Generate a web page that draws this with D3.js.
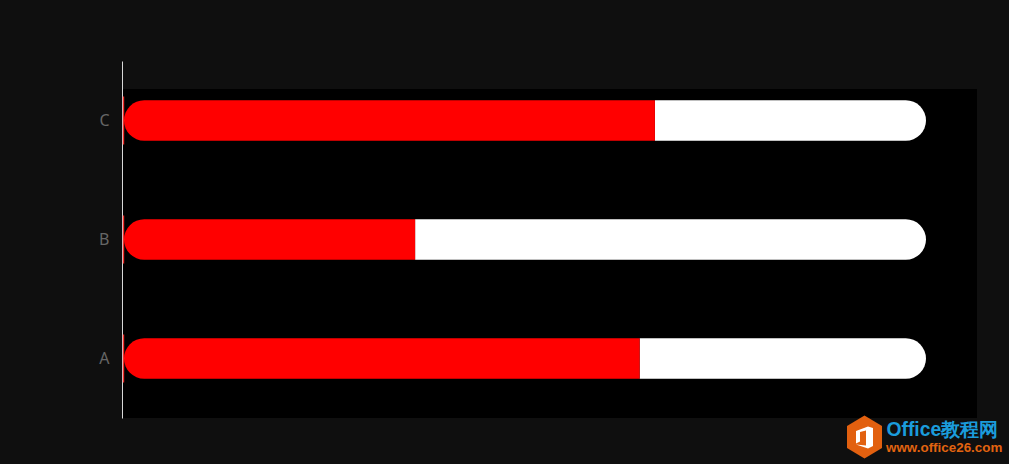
<!DOCTYPE html>
<html>
<head>
<meta charset="utf-8">
<script src="https://cdn.jsdelivr.net/npm/d3@7"></script>
<style>
html, body { margin: 0; padding: 0; background: #0f0f0f; overflow: hidden; }
svg { display: block; }
text { font-family: "Noto Sans", sans-serif; }
</style>
</head>
<body>
<div id="vis"></div>
<script>
// bottom to top, the way the axis runs
var categories = ["A", "B", "C"],
	values = [64.3, 36.3, 66.2],
	totals = [100, 100, 100];

var w = 1009,
	h = 464;

var x = d3.scaleLinear().domain([0, 100]).range([124, 926]),
	y = d3.scaleBand().domain(categories).range([418, 61]).paddingInner(0.66).paddingOuter(0.33);

var vis = d3.select("#vis")
	.append("svg")
	.attr("width", w)
	.attr("height", h);

// plot background
vis.append("rect")
	.attr("x", 123)
	.attr("y", 89)
	.attr("width", 854)
	.attr("height", 329)
	.attr("fill", "#000");

// one end rounded, the other square. side = -1 rounds the left, 1 the right
function oneRounded(xSquare, xRound, y0, y1, side) {
	var r = (y1 - y0) / 2,
		p = d3.path();
	p.moveTo(xSquare, y0);
	p.lineTo(xRound - side * r, y0);
	p.arc(xRound - side * r, y0 + r, r, -Math.PI / 2, Math.PI / 2, side < 0);
	p.lineTo(xSquare, y1);
	p.closePath();
	return p.toString();
}

// white remainder
vis.selectAll(".track")
	.data(categories)
	.enter().append("path")
	.attr("class", "track")
	.attr("d", function(d, i) { return oneRounded(x(values[i]), x(totals[i]), y(d), y(d) + y.bandwidth(), 1); })
	.attr("fill", "#fff");

// red value
vis.selectAll(".bar")
	.data(categories)
	.enter().append("path")
	.attr("class", "bar")
	.attr("d", function(d, i) { return oneRounded(x(values[i]), x(0), y(d), y(d) + y.bandwidth(), -1); })
	.attr("fill", "#f00");

// axis
var axis = d3.axisLeft(y).tickSize(0).tickPadding(12.5);
var g = vis.append("g")
	.attr("transform", "translate(122,0)")
	.call(axis);
g.select(".domain")
	.attr("stroke", "#d8d8d8")
	.attr("stroke-width", 1);
g.selectAll("text")
	.attr("fill", "#666")
	.attr("dy", "0.36em")
	.style("font-size", "16px")
	.style("font-family", '"Noto Sans", sans-serif');

// the faint red marks beside the axis
vis.selectAll(".mark")
	.data(categories)
	.enter().append("line")
	.attr("class", "mark")
	.attr("x1", 123.5)
	.attr("x2", 123.5)
	.attr("y1", function(d) { return y(d) + y.bandwidth() / 2 - 24; })
	.attr("y2", function(d) { return y(d) + y.bandwidth() / 2 + 24; })
	.attr("stroke", "#f02c28")
	.attr("stroke-width", 1.4);

// watermark
var wm = vis.append("g");
wm.append("path")
	.attr("d", "M864.5,415.5L882,426V448L864.5,458.5L847,448V426Z")
	.attr("fill", "#e2600f");
wm.append("path")
	.attr("d", "M856,431L868,426.5L873,428V446L868,448.5L856,444.5L866,445.5V430.5L860,432V441.5L856,443.5Z")
	.attr("fill", "#fff");
wm.append("text")
	.attr("x", 886.5)
	.attr("y", 436)
	.attr("fill", "#1b9cdc")
	.style("font-family", '"Liberation Sans", sans-serif')
	.style("font-size", "19.3px")
	.style("font-weight", 700)
	.text("Office教程网");
wm.append("text")
	.attr("x", 886)
	.attr("y", 452)
	.attr("fill", "#e2640f")
	.style("font-family", '"Liberation Sans", sans-serif')
	.style("font-size", "13.4px")
	.style("font-weight", 700)
	.text("www.office26.com");
</script>
</body>
</html>
